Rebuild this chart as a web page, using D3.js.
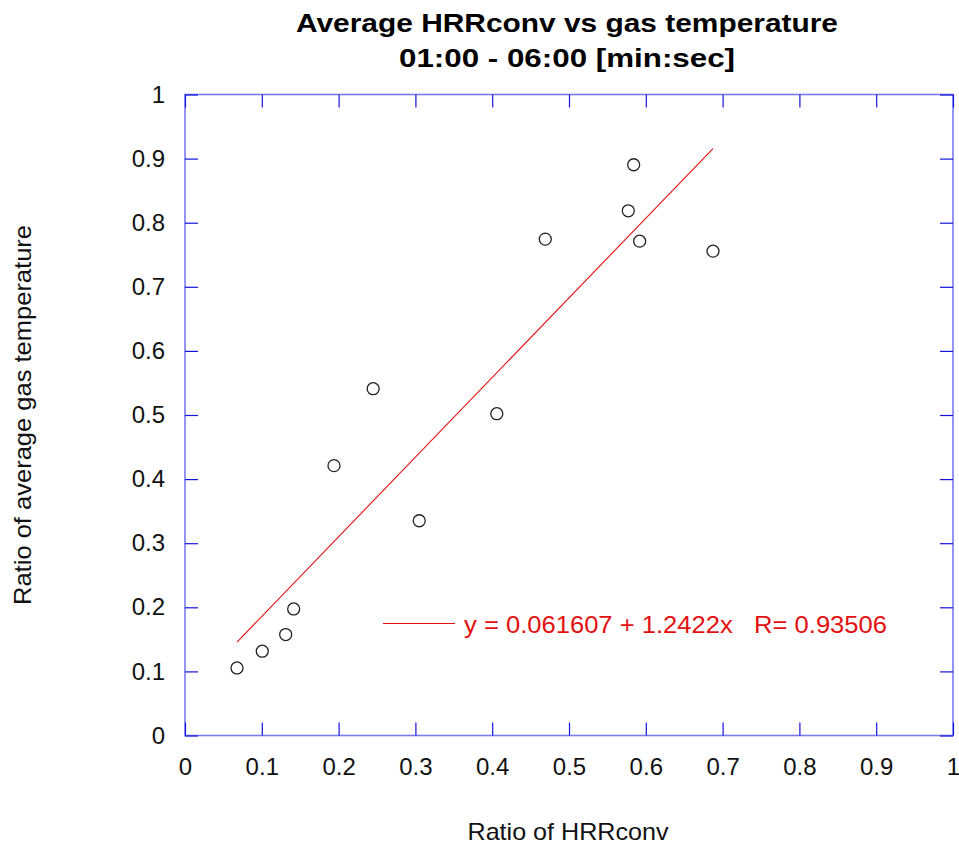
<!DOCTYPE html>
<html>
<head>
<meta charset="utf-8">
<script src="https://cdn.jsdelivr.net/npm/d3@7"></script>
<style>
  html, body { margin: 0; padding: 0; background: #fff; }
  svg { display: block; font-family: Arial, "Liberation Sans", sans-serif; }
</style>
</head>
<body>
<svg id="chart" width="959" height="844"></svg>
<script>
// Ratio of HRRconv (x) and ratio of average gas temperature (y)
const hrrRatio  = [0.0677, 0.1006, 0.1311, 0.1415, 0.1940, 0.2450, 0.3050, 0.4060, 0.4691, 0.5772, 0.5842, 0.5920, 0.6875];
const tempRatio = [0.1054, 0.1315, 0.1575, 0.1974, 0.4210, 0.5410, 0.3350, 0.5020, 0.7744, 0.8186, 0.8904, 0.7712, 0.7556];

// Linear fit reported in the legend
const fitIntercept = 0.061607;
const fitSlope = 1.2422;
const fitR = 0.93506;

const xTicks = [0, 0.1, 0.2, 0.3, 0.4, 0.5, 0.6, 0.7, 0.8, 0.9, 1];
const yTicks = [0, 0.1, 0.2, 0.3, 0.4, 0.5, 0.6, 0.7, 0.8, 0.9, 1];

const titleLines = ["Average HRRconv vs gas temperature", "01:00 - 06:00 [min:sec]"];
const xTitle = "Ratio of HRRconv";
const yTitle = "Ratio of average gas temperature";

const svg = d3.select("#chart");
const plotL = 185, plotR = 953, plotT = 94.5, plotB = 735.5;

const x = d3.scaleLinear().domain([0, 1]).range([plotL, plotR]);
const y = d3.scaleLinear().domain([0, 1]).range([plotB, plotT]);

const tickLen = 13;
const fmt = d => d === 0 ? "0" : d === 1 ? "1" : d3.format(".1f")(d);

// Frame
svg.append("rect")
  .attr("x", plotL).attr("y", plotT)
  .attr("width", plotR - plotL).attr("height", plotB - plotT)
  .attr("fill", "none")
  .attr("stroke", "#7a7af2").attr("stroke-width", 1.6);

// Inward ticks on all four sides
const tickColor = "#1414dc";
const bottomAxis = d3.axisBottom(x).tickValues(xTicks).tickSize(-tickLen).tickFormat(fmt).tickPadding(22);
const topAxis = d3.axisTop(x).tickValues(xTicks).tickSize(-tickLen).tickFormat("");
const leftAxis = d3.axisLeft(y).tickValues(yTicks).tickSize(-tickLen).tickFormat(fmt).tickPadding(20);
const rightAxis = d3.axisRight(y).tickValues(yTicks).tickSize(-tickLen).tickFormat("");

function styleAxis(g) {
  g.select(".domain").remove();
  g.selectAll(".tick line").attr("stroke", tickColor).attr("stroke-width", 1.2);
  g.selectAll(".tick text")
    .attr("fill", "#111")
    .style("font-size", "24px")
    .style("font-family", "Arial, 'Liberation Sans', sans-serif");
}

svg.append("g").attr("transform", `translate(0,${plotB})`).call(bottomAxis).call(styleAxis)
  .selectAll(".tick text").attr("dy", "0.71em");
svg.append("g").attr("transform", `translate(0,${plotT})`).call(topAxis).call(styleAxis);
svg.append("g").attr("transform", `translate(${plotL},0)`).call(leftAxis).call(styleAxis);
svg.append("g").attr("transform", `translate(${plotR},0)`).call(rightAxis).call(styleAxis);

// Fit line over the data range
const xMin = d3.min(hrrRatio), xMax = d3.max(hrrRatio);
const red = "#e31010";
svg.append("line")
  .attr("x1", x(xMin)).attr("y1", y(fitIntercept + fitSlope * xMin))
  .attr("x2", x(xMax)).attr("y2", y(fitIntercept + fitSlope * xMax))
  .attr("stroke", red).attr("stroke-width", 1.1);

// Data points
svg.append("g").selectAll("circle")
  .data(hrrRatio.map((v, i) => [v, tempRatio[i]]))
  .join("circle")
  .attr("cx", d => x(d[0])).attr("cy", d => y(d[1]))
  .attr("r", 6)
  .attr("fill", "none")
  .attr("stroke", "#222").attr("stroke-width", 1.3);

// Legend
const legY = 623.5;
svg.append("line")
  .attr("x1", 383).attr("x2", 455).attr("y1", legY).attr("y2", legY)
  .attr("stroke", red).attr("stroke-width", 1.1);
svg.append("text")
  .attr("x", 464).attr("y", 633)
  .attr("fill", red)
  .style("font-size", "24px")
  .attr("xml:space", "preserve")
  .style("white-space", "pre")
  .attr("textLength", 423).attr("lengthAdjust", "spacingAndGlyphs")
  .text(`y = ${fitIntercept} + ${fitSlope}x   R= ${fitR}`);

// Titles
const titleWidths = [542, 336];
svg.append("g").selectAll("text")
  .data(titleLines)
  .join("text")
  .attr("x", 567).attr("y", (d, i) => 32 + i * 35)
  .attr("text-anchor", "middle")
  .style("font-size", "26px").style("font-weight", "bold")
  .attr("fill", "#000")
  .attr("textLength", (d, i) => titleWidths[i]).attr("lengthAdjust", "spacingAndGlyphs")
  .text(d => d);

svg.append("text")
  .attr("x", 568).attr("y", 840)
  .attr("text-anchor", "middle")
  .style("font-size", "24px")
  .attr("fill", "#111")
  .attr("textLength", 201).attr("lengthAdjust", "spacingAndGlyphs")
  .text(xTitle);

svg.append("text")
  .attr("transform", "translate(31,415) rotate(-90)")
  .attr("text-anchor", "middle")
  .style("font-size", "24px")
  .attr("fill", "#111")
  .attr("textLength", 380).attr("lengthAdjust", "spacingAndGlyphs")
  .text(yTitle);
</script>
</body>
</html>
